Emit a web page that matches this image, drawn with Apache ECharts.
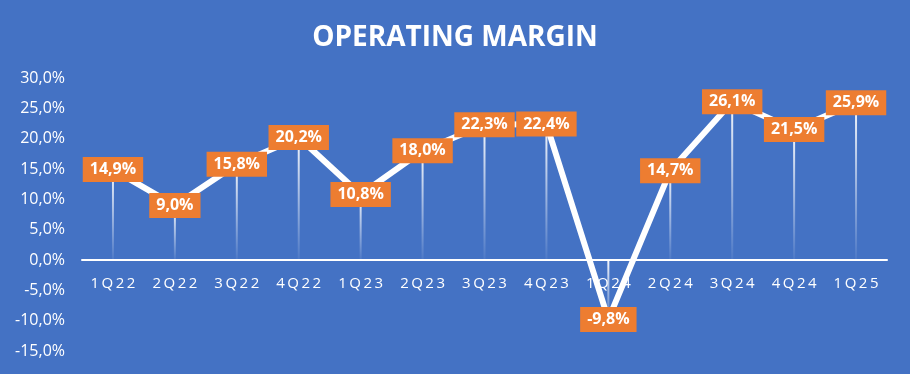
<!DOCTYPE html>
<html><head><meta charset="utf-8">
<script src="https://cdn.jsdelivr.net/npm/echarts@6/dist/echarts.min.js"></script>
<style>html,body{margin:0;padding:0;background:#4472C4;overflow:hidden}#c{width:910px;height:374px}</style>
</head><body><div id="c"></div>
<script>
const categories = ['1Q22','2Q22','3Q22','4Q22','1Q23','2Q23','3Q23','4Q23','1Q24','2Q24','3Q24','4Q24','1Q25'];
const margins = [14.9, 9.0, 15.8, 20.2, 10.8, 18.0, 22.3, 22.4, -9.8, 14.7, 26.1, 21.5, 25.9];
const titleText = 'OPERATING MARGIN';
const fmt = v => v.toFixed(1).replace('.', ',') + '%';
const chart = echarts.init(document.getElementById('c'));
chart.setOption({
  backgroundColor: '#4472C4',
  animation: false,
  title: {
    text: titleText, left: 'center', top: 19,
    textStyle: {color: '#fff', fontFamily: 'Open Sans', fontWeight: 'bold', fontSize: 28,
      formatter: null}
  },
  grid: {left: 82, right: 23, top: 78, bottom: 23, outerBoundsMode: 'none', containLabel: false},
  xAxis: [{
    type: 'category', data: categories,
    axisLine: {onZero: true, lineStyle: {color: '#fff', width: 2}},
    axisTick: {show: false},
    axisLabel: {show: false}
  }, {
    type: 'category', data: categories, position: 'bottom', offset: -91,
    axisLine: {show: false, onZero: false},
    axisTick: {show: false},
    axisLabel: {color: '#fff', fontFamily: 'Open Sans', fontSize: 15, margin: 16, interval: 0,
      formatter: v => v.split('').join('\u2009')}
  }],
  yAxis: {
    type: 'value', min: -15, max: 30, interval: 5,
    splitLine: {show: false}, axisLine: {show: false}, axisTick: {show: false},
    axisLabel: {color: '#fff', fontFamily: 'Open Sans', fontSize: 16, margin: 17,
      formatter: v => v.toFixed(1).replace('.', ',') + '%'}
  },
  series: [
    {
      type: 'bar', data: margins, barWidth: 2, z: 1,
      itemStyle: {color: new echarts.graphic.LinearGradient(0, 0, 0, 1, [
        {offset: 0, color: 'rgba(255,255,255,0.95)'},
        {offset: 1, color: 'rgba(255,255,255,0.05)'}
      ])},
      silent: true
    },
    {
      type: 'line', data: margins, z: 3,
      symbol: 'circle', symbolSize: 1, showSymbol: true,
      itemStyle: {color: '#fff'},
      lineStyle: {color: '#fff', width: 6},
      label: {
        show: true, position: 'inside',
        formatter: p => fmt(p.value),
        color: '#fff', fontFamily: 'Open Sans', fontWeight: 'bold', fontSize: 16,
        backgroundColor: '#ED7D31', padding: [5, 7, 4, 7]
      }
    }
  ]
});
</script></body></html>
